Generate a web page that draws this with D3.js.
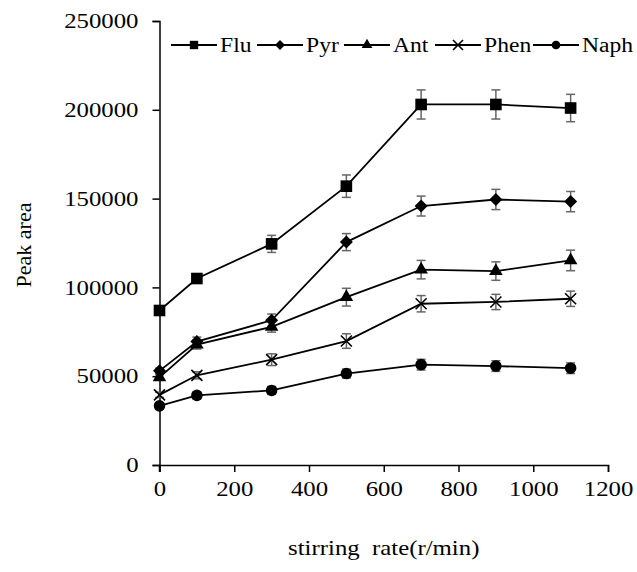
<!DOCTYPE html>
<html>
<head>
<meta charset="utf-8">
<script src="https://cdn.jsdelivr.net/npm/d3@7"></script>
<style>
  html, body { margin: 0; padding: 0; background: #fff; }
  svg text { font-family: "Liberation Serif", "Times New Roman", serif; fill: #000; }
</style>
</head>
<body>
<svg id="chart" width="637" height="572"></svg>
<script>
const rates = [0, 100, 300, 500, 700, 900, 1100];
const seriesNames = ["Flu", "Pyr", "Ant", "Phen", "Naph"];
const flu  = [87000, 105000, 124500, 157000, 203000, 203000, 201000];
const fluErr  = [2000, 2500, 4800, 6300, 8200, 8200, 7700];
const pyr  = [53000, 69500, 81500, 125500, 145800, 149500, 148300];
const pyrErr  = [1500, 2500, 3500, 4800, 5600, 5700, 5700];
const ant  = [49300, 67800, 77800, 94500, 110000, 109200, 115200];
const antErr  = [1500, 2500, 3000, 5000, 5200, 5200, 5800];
const phen = [39500, 50500, 59300, 69800, 90800, 91800, 93600];
const phenErr = [1500, 2000, 3300, 4100, 4600, 4300, 4300];
const naph = [33300, 39200, 42000, 51500, 56500, 55700, 54500];
const naphErr = [1500, 2000, 2200, 2500, 3000, 3000, 3000];
const xTicks = [0, 200, 400, 600, 800, 1000, 1200];
const yTicks = [0, 50000, 100000, 150000, 200000, 250000];
const xTitle = "stirring\u00a0\u00a0rate(r/min)";
const yTitle = "Peak area";

const series = [
  {name: seriesNames[0], values: flu,  err: fluErr,  symbol: d3.symbolSquare,   size: 135, legSize: 70},
  {name: seriesNames[1], values: pyr,  err: pyrErr,  symbol: "diamond",         size: 6.5, legSize: 5},
  {name: seriesNames[2], values: ant,  err: antErr,  symbol: d3.symbolTriangle, size: 80,  legSize: 50},
  {name: seriesNames[3], values: phen, err: phenErr, symbol: "x",               size: 5.5, legSize: 5},
  {name: seriesNames[4], values: naph, err: naphErr, symbol: d3.symbolCircle,   size: 105, legSize: 60}
];

const svg = d3.select("#chart");
const x = d3.scaleLinear().domain([0, 1200]).range([159.5, 608]);
const y = d3.scaleLinear().domain([0, 250000]).range([465, 21]);

const fontSize = 21;
const stretch = 1.18;
function widen(sel) {
  sel.each(function () {
    const w = this.getComputedTextLength();
    d3.select(this).attr("textLength", w * stretch).attr("lengthAdjust", "spacingAndGlyphs");
  });
}

// axes
const xAxis = svg.append("g").attr("transform", `translate(0,${y(0)})`)
  .call(d3.axisBottom(x).tickValues(xTicks).tickSize(7).tickSizeOuter(7).tickPadding(9).tickFormat(d3.format("d")));
const yAxis = svg.append("g").attr("transform", `translate(${x(0)},0)`)
  .call(d3.axisLeft(y).tickValues(yTicks).tickSize(7).tickSizeOuter(7).tickPadding(14).tickFormat(d3.format("d")));
[xAxis, yAxis].forEach(g => {
  g.attr("font-family", null);
  g.select(".domain").attr("stroke", "#000").attr("stroke-width", 1.5);
  g.selectAll(".tick line").attr("stroke", "#000").attr("stroke-width", 1.5);
  g.selectAll(".tick text").attr("font-size", fontSize).call(widen);
});
svg.append("line").attr("x1", x(0)).attr("x2", x(0)).attr("y1", y(0)).attr("y2", y(0) + 7)
  .attr("stroke", "#000").attr("stroke-width", 1.5);

// titles
svg.append("text").attr("x", (x(0) + x(1200)) / 2).attr("y", 555)
  .attr("text-anchor", "middle").attr("font-size", fontSize).text(xTitle).call(widen);
svg.append("text").attr("transform", `translate(31,${(y(0) + y(250000)) / 2 + 2}) rotate(-90)`)
  .attr("text-anchor", "middle").attr("font-size", fontSize + 1).text(yTitle);

function drawMarker(g, s, cx, cy, big) {
  const sz = big ? s.size : s.legSize;
  if (s.symbol === "diamond") {
    g.append("path").attr("d", `M${cx},${cy - sz}L${cx + sz},${cy}L${cx},${cy + sz}L${cx - sz},${cy}Z`).attr("fill", "#000");
  } else if (s.symbol === "x") {
    g.append("path").attr("d", `M${cx - sz},${cy - sz}L${cx + sz},${cy + sz}M${cx - sz},${cy + sz}L${cx + sz},${cy - sz}`)
      .attr("stroke", "#000").attr("stroke-width", 1.6).attr("fill", "none");
  } else {
    g.append("path").attr("d", d3.symbol().type(s.symbol).size(sz)()).attr("transform", `translate(${cx},${cy})`).attr("fill", "#000");
  }
}

const plot = svg.append("g");
const line = d3.line().x((d, i) => x(rates[i])).y(d => y(d));

// error bars
series.forEach(s => {
  const g = plot.append("g");
  s.values.forEach((v, i) => {
    const cx = x(rates[i]);
    const y1 = y(v + s.err[i]), y2 = y(v - s.err[i]);
    const st = "#666";
    g.append("line").attr("x1", cx).attr("x2", cx).attr("y1", y1).attr("y2", y2).attr("stroke", st).attr("stroke-width", 1.5);
    g.append("line").attr("x1", cx - 4.5).attr("x2", cx + 4.5).attr("y1", y1).attr("y2", y1).attr("stroke", st).attr("stroke-width", 1.5);
    g.append("line").attr("x1", cx - 4.5).attr("x2", cx + 4.5).attr("y1", y2).attr("y2", y2).attr("stroke", st).attr("stroke-width", 1.5);
  });
});
// lines
series.forEach(s => {
  plot.append("path").datum(s.values).attr("d", line).attr("fill", "none").attr("stroke", "#000").attr("stroke-width", 1.8);
});
// markers
series.forEach(s => {
  const g = plot.append("g");
  s.values.forEach((v, i) => drawMarker(g, s, x(rates[i]), y(v), true));
});

// legend
const legendX = [171, 257, 344, 435, 533];
const legY = 45;
series.forEach((s, i) => {
  const g = svg.append("g");
  const lx = legendX[i];
  g.append("line").attr("x1", lx).attr("x2", lx + 46).attr("y1", legY).attr("y2", legY).attr("stroke", "#000").attr("stroke-width", 1.8);
  drawMarker(g, s, lx + 23, legY, false);
  g.append("text").attr("x", lx + 49).attr("y", legY + 7).attr("font-size", 20).text(s.name).call(widen);
});
</script>
</body>
</html>
